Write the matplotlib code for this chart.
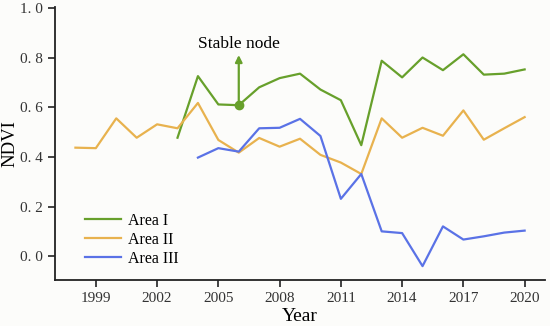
import matplotlib

matplotlib.use("Agg")
import matplotlib.pyplot as plt

years_1 = list(range(2003, 2021))
area_1 = [0.477, 0.725, 0.611, 0.608, 0.680, 0.717, 0.735, 0.671, 0.628, 0.447,
          0.787, 0.720, 0.800, 0.749, 0.813, 0.731, 0.735, 0.752]

years_2 = list(range(1998, 2021))
area_2 = [0.437, 0.435, 0.555, 0.477, 0.531, 0.515, 0.617, 0.468, 0.417, 0.476,
          0.441, 0.473, 0.408, 0.377, 0.331, 0.555, 0.477, 0.517, 0.485, 0.587,
          0.469, 0.515, 0.560]

years_3 = list(range(2004, 2021))
area_3 = [0.397, 0.435, 0.421, 0.515, 0.517, 0.553, 0.484, 0.231, 0.331, 0.100,
          0.093, -0.040, 0.120, 0.067, 0.080, 0.095, 0.103]

node_year = 2006
node_value = 0.608
x_ticks = [1999, 2002, 2005, 2008, 2011, 2014, 2017, 2020]
y_ticks = [0.0, 0.2, 0.4, 0.6, 0.8, 1.0]
y_tick_labels = ["0. 0", "0. 2", "0. 4", "0. 6", "0. 8", "1. 0"]

GREEN = "#67a02b"
ORANGE = "#e8b24e"
BLUE = "#5a72e6"

plt.rcParams["font.family"] = ["Liberation Serif", "DejaVu Serif"]

fig = plt.figure(figsize=(5.5, 3.26), dpi=100, facecolor="#fcfcfa")
ax = fig.add_axes([0.1, 0.141, 0.891, 0.838], facecolor="#fcfcfa")

ax.plot(years_1, area_1, color=GREEN, lw=1.6, label="Area I")
ax.plot(years_2, area_2, color=ORANGE, lw=1.6, label="Area II")
ax.plot(years_3, area_3, color=BLUE, lw=1.6, label="Area III")

ax.plot(node_year, node_value, "o", color=GREEN, ms=6)
ax.annotate("", xy=(node_year, 0.81), xytext=(node_year, node_value),
            arrowprops=dict(arrowstyle="-|>", color=GREEN, lw=1.6,
                            mutation_scale=10, shrinkA=0, shrinkB=0))
ax.text(node_year, 0.824, "Stable node", ha="center", va="bottom", fontsize=12.5)

ax.set_xlim(1997, 2021)
ax.set_ylim(-0.096, 1.004)
ax.set_xticks(x_ticks)
ax.set_yticks(y_ticks)
ax.set_yticklabels(y_tick_labels)
ax.tick_params(labelsize=11, length=5, width=1.2, color="#222222", labelcolor="#333333")
for side in ("top", "right"):
    ax.spines[side].set_visible(False)
for side in ("left", "bottom"):
    ax.spines[side].set_linewidth(1.3)
    ax.spines[side].set_color("#222222")

ax.set_xlabel("Year", fontsize=14, labelpad=2)
ax.set_ylabel("NDVI", fontsize=13.5, labelpad=1)

ax.legend(loc="lower left", bbox_to_anchor=(0.031, -0.005), frameon=False,
          fontsize=11.5, handlelength=2.25, handletextpad=0.5, labelspacing=0.2)

fig.savefig("out.png", dpi=100, facecolor=fig.get_facecolor())
